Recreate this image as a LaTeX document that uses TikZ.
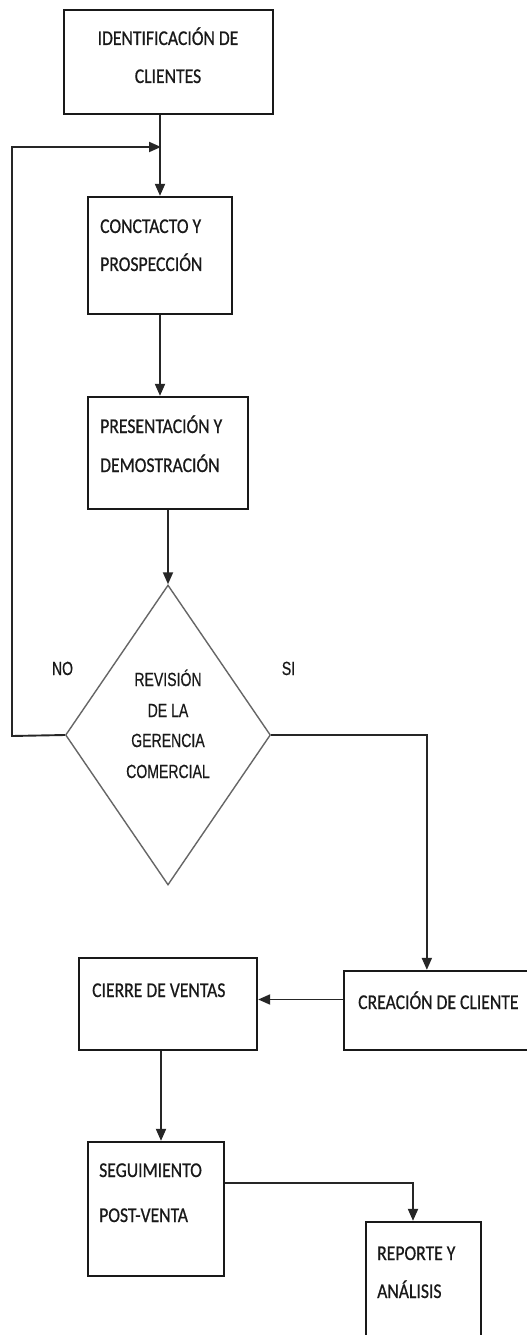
\documentclass[tikz,border=0pt]{standalone}
\usepackage{fontspec}
\usepackage{graphicx}
\usetikzlibrary{shapes.geometric,arrows.meta,calc}
\newfontfamily\boxfont[FakeBold=0.7]{Carlito}
\newfontfamily\dfont[FakeBold=0.6]{Liberation Sans}
\newcommand{\bt}[1]{\scalebox{0.84}[1]{#1}}
\newcommand{\dt}[1]{\scalebox{0.74}[1]{#1}}
\begin{document}
\begin{tikzpicture}[x=1bp,y=-1bp,
  box/.style={draw=black!90, line width=2.3bp, inner sep=0pt},
  lbl/.style={inner sep=0pt, anchor=base west, font=\boxfont\fontsize{21bp}{21bp}\selectfont, text=black!90},
  clbl/.style={lbl, anchor=base},
  dlbl/.style={inner sep=0pt, anchor=base, font=\dfont\fontsize{19bp}{19bp}\selectfont, text=black!90},
  arr/.style={draw=black!85, line width=1.9bp, -{Triangle[length=12bp,width=10bp]}},
  ln/.style={draw=black!75, line width=1.8bp}]
\useasboundingbox (0,0) rectangle (527,1335);
\fill[white] (0,0) rectangle (527,1335);

% boxes
\node[box, minimum width=209bp, minimum height=104bp] (b1) at (168.5,62) {};
\node[box, minimum width=144bp, minimum height=117bp] (b2) at (160,255.5) {};
\node[box, minimum width=160bp, minimum height=112bp] (b3) at (168,453) {};
\node[draw=black!60, line width=1.4bp, shape=diamond, aspect=0.683,
      minimum width=205bp, minimum height=300bp, inner sep=0pt] (d) at (168,735) {};
\node[box, minimum width=178bp, minimum height=92bp] (ci) at (168,1004) {};
\node[box, minimum width=200bp, minimum height=79bp] (cre) at (444,1010.5) {};
\node[box, minimum width=136bp, minimum height=134bp] (seg) at (156,1209) {};
\node[box, minimum width=115bp, minimum height=123bp] (rep) at (423.5,1283.5) {};

% texts
\node[clbl] (t1a) at (168,45) {\bt{IDENTIFICACIÓN DE}};
\node[clbl] (t1b) at (168,83) {\bt{CLIENTES}};
\node[lbl] (t2a) at (100,233) {\bt{CONCTACTO Y}};
\node[lbl] (t2b) at (100,271) {\bt{PROSPECCIÓN}};
\node[lbl] (t3a) at (100,433) {\bt{PRESENTACIÓN Y}};
\node[lbl] (t3b) at (100,472) {\bt{DEMOSTRACIÓN}};
\node[dlbl] (td1) at (168,686) {\dt{REVISIÓN}};
\node[dlbl] (td2) at (168,717) {\dt{DE LA}};
\node[dlbl] (td3) at (168,747) {\dt{GERENCIA}};
\node[dlbl] (td4) at (168,778) {\dt{COMERCIAL}};
\node[dlbl] (no) at (62.5,675) {\dt{NO}};
\node[dlbl] (si) at (288.5,675) {\dt{SI}};
\node[lbl] (tci) at (92,997) {\bt{CIERRE DE VENTAS}};
\node[lbl] (tcre) at (358,1009) {\bt{CREACIÓN DE CLIENTE}};
\node[lbl] (tsa) at (99,1177) {\bt{SEGUIMIENTO}};
\node[lbl] (tsb) at (99,1222) {\bt{POST-VENTA}};
\node[lbl] (tra) at (377,1260) {\bt{REPORTE Y}};
\node[lbl] (trb) at (377,1298) {\bt{ANÁLISIS}};

% connectors
\coordinate (j) at (161,147);
\coordinate (lp) at (12,736);
\draw[arr] (b1.south -| b2.north) -- (b2.north);
\draw[arr] (d.west) -- (lp) |- (j);
\draw[arr] (b2.south) -- (b2.south |- b3.north);
\draw[arr] (b3.south) -- (d.north);
\coordinate (cin) at ($(cre.north west)+(84,0)$);
\draw[arr] (d.east) -| (cin);
\coordinate (c1) at ($(cre.west)+(0,-11)$);
\draw[arr] (c1) -- (c1 -| ci.east);
\coordinate (c2) at ($(ci.south)+(-7,0)$);
\draw[arr] (c2) -- (c2 |- seg.north);
\coordinate (c3) at ($(seg.east)+(0,-26)$);
\draw[arr] (c3) -| ($(rep.north)+(-10.5,0)$);
\end{tikzpicture}
\end{document}
